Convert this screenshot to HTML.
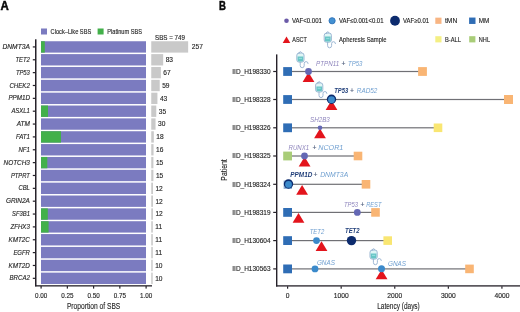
<!DOCTYPE html>
<html lang="en">
<head>
<meta charset="utf-8">
<title>Figure: SBS proportions and patient latency</title>
<style>
html, body { margin: 0; padding: 0; background: #ffffff; }
body { width: 520px; height: 312px; overflow: hidden; }
svg { display: block; font-family: "Liberation Sans", sans-serif; }
svg text { paint-order: stroke; stroke-linejoin: round; }
svg text.k { stroke: #262626; stroke-width: 0.14px; }
</style>
</head>
<body>
<svg width="520" height="312" viewBox="0 0 520 312">
<rect x="0" y="0" width="520" height="312" fill="#ffffff"/>
<text x="0.60" y="10.00" font-size="12" fill="#0a0a0a" font-weight="bold" textLength="8.30" lengthAdjust="spacingAndGlyphs" stroke="#0a0a0a" stroke-width="0.5">A</text>
<text x="218.90" y="10.00" font-size="12" fill="#0a0a0a" font-weight="bold" textLength="6.90" lengthAdjust="spacingAndGlyphs" stroke="#0a0a0a" stroke-width="0.5">B</text>
<rect x="41" y="28.5" width="6" height="6" fill="#7b7bc0"/>
<text x="50.60" y="34.00" font-size="6.8" fill="#262626" textLength="40.60" lengthAdjust="spacingAndGlyphs" class="k">Clock–Like SBS</text>
<rect x="97.6" y="28.5" width="6" height="6" fill="#42b04a"/>
<text x="107.30" y="34.00" font-size="6.8" fill="#262626" textLength="34.60" lengthAdjust="spacingAndGlyphs" class="k">Platinum SBS</text>
<text x="155.00" y="39.70" font-size="6.8" fill="#262626" textLength="30.00" lengthAdjust="spacingAndGlyphs" class="k">SBS = 749</text>
<rect x="41.0" y="41.25" width="105.0" height="11.36" fill="#7b7bc0"/>
<rect x="41.0" y="41.25" width="3.8" height="11.36" fill="#42b04a"/>
<rect x="151.25" y="41.25" width="36.90" height="11.36" fill="#c9c9c9"/>
<text x="191.81" y="49.33" font-size="6.6" fill="#262626" class="k">257</text>
<text x="29.90" y="48.98" font-size="6.9" text-anchor="end" fill="#262626" font-style="italic" textLength="27.40" lengthAdjust="spacingAndGlyphs" class="k">DNMT3A</text>
<rect x="32.8" y="46.33" width="2.6" height="1.2" fill="#26222a"/>
<rect x="41.0" y="54.11" width="105.0" height="11.36" fill="#7b7bc0"/>
<rect x="151.25" y="54.11" width="11.92" height="11.36" fill="#c9c9c9"/>
<text x="165.64" y="62.18" font-size="6.6" fill="#262626" class="k">83</text>
<text x="29.90" y="61.83" font-size="6.9" text-anchor="end" fill="#262626" font-style="italic" textLength="14.40" lengthAdjust="spacingAndGlyphs" class="k">TET2</text>
<rect x="32.8" y="59.18" width="2.6" height="1.2" fill="#26222a"/>
<rect x="41.0" y="66.96" width="105.0" height="11.36" fill="#7b7bc0"/>
<rect x="151.25" y="66.96" width="9.62" height="11.36" fill="#c9c9c9"/>
<text x="163.35" y="75.04" font-size="6.6" fill="#262626" class="k">67</text>
<text x="29.90" y="74.69" font-size="6.9" text-anchor="end" fill="#262626" font-style="italic" textLength="14.00" lengthAdjust="spacingAndGlyphs" class="k">TP53</text>
<rect x="32.8" y="72.04" width="2.6" height="1.2" fill="#26222a"/>
<rect x="41.0" y="79.82" width="105.0" height="11.36" fill="#7b7bc0"/>
<rect x="151.25" y="79.82" width="8.47" height="11.36" fill="#c9c9c9"/>
<text x="162.20" y="87.89" font-size="6.6" fill="#262626" class="k">59</text>
<text x="29.90" y="87.54" font-size="6.9" text-anchor="end" fill="#262626" font-style="italic" textLength="20.50" lengthAdjust="spacingAndGlyphs" class="k">CHEK2</text>
<rect x="32.8" y="84.89" width="2.6" height="1.2" fill="#26222a"/>
<rect x="41.0" y="92.67" width="105.0" height="11.36" fill="#7b7bc0"/>
<rect x="151.25" y="92.67" width="6.17" height="11.36" fill="#c9c9c9"/>
<text x="159.90" y="100.75" font-size="6.6" fill="#262626" class="k">43</text>
<text x="29.90" y="100.40" font-size="6.9" text-anchor="end" fill="#262626" font-style="italic" textLength="21.50" lengthAdjust="spacingAndGlyphs" class="k">PPM1D</text>
<rect x="32.8" y="97.75" width="2.6" height="1.2" fill="#26222a"/>
<rect x="41.0" y="105.53" width="105.0" height="11.36" fill="#7b7bc0"/>
<rect x="41.0" y="105.53" width="7.0" height="11.36" fill="#42b04a"/>
<rect x="151.25" y="105.53" width="5.03" height="11.36" fill="#c9c9c9"/>
<text x="158.75" y="113.60" font-size="6.6" fill="#262626" class="k">35</text>
<text x="29.90" y="113.25" font-size="6.9" text-anchor="end" fill="#262626" font-style="italic" textLength="18.50" lengthAdjust="spacingAndGlyphs" class="k">ASXL1</text>
<rect x="32.8" y="110.60" width="2.6" height="1.2" fill="#26222a"/>
<rect x="41.0" y="118.38" width="105.0" height="11.36" fill="#7b7bc0"/>
<rect x="151.25" y="118.38" width="4.31" height="11.36" fill="#c9c9c9"/>
<text x="158.03" y="126.46" font-size="6.6" fill="#262626" class="k">30</text>
<text x="29.90" y="126.11" font-size="6.9" text-anchor="end" fill="#262626" font-style="italic" textLength="13.20" lengthAdjust="spacingAndGlyphs" class="k">ATM</text>
<rect x="32.8" y="123.46" width="2.6" height="1.2" fill="#26222a"/>
<rect x="41.0" y="131.24" width="105.0" height="11.36" fill="#7b7bc0"/>
<rect x="41.0" y="131.24" width="20.0" height="11.36" fill="#42b04a"/>
<rect x="151.25" y="131.24" width="2.58" height="11.36" fill="#c9c9c9"/>
<text x="156.31" y="139.31" font-size="6.6" fill="#262626" class="k">18</text>
<text x="29.90" y="138.96" font-size="6.9" text-anchor="end" fill="#262626" font-style="italic" textLength="14.00" lengthAdjust="spacingAndGlyphs" class="k">FAT1</text>
<rect x="32.8" y="136.31" width="2.6" height="1.2" fill="#26222a"/>
<rect x="41.0" y="144.09" width="105.0" height="11.36" fill="#7b7bc0"/>
<rect x="151.25" y="144.09" width="2.30" height="11.36" fill="#c9c9c9"/>
<text x="156.02" y="152.17" font-size="6.6" fill="#262626" class="k">16</text>
<text x="29.90" y="151.82" font-size="6.9" text-anchor="end" fill="#262626" font-style="italic" textLength="11.40" lengthAdjust="spacingAndGlyphs" class="k">NF1</text>
<rect x="32.8" y="149.17" width="2.6" height="1.2" fill="#26222a"/>
<rect x="41.0" y="156.95" width="105.0" height="11.36" fill="#7b7bc0"/>
<rect x="41.0" y="156.95" width="6.3" height="11.36" fill="#42b04a"/>
<rect x="151.25" y="156.95" width="2.15" height="11.36" fill="#c9c9c9"/>
<text x="155.88" y="165.03" font-size="6.6" fill="#262626" class="k">15</text>
<text x="29.90" y="164.68" font-size="6.9" text-anchor="end" fill="#262626" font-style="italic" textLength="26.40" lengthAdjust="spacingAndGlyphs" class="k">NOTCH3</text>
<rect x="32.8" y="162.03" width="2.6" height="1.2" fill="#26222a"/>
<rect x="41.0" y="169.80" width="105.0" height="11.36" fill="#7b7bc0"/>
<rect x="151.25" y="169.80" width="2.15" height="11.36" fill="#c9c9c9"/>
<text x="155.88" y="177.88" font-size="6.6" fill="#262626" class="k">15</text>
<text x="29.90" y="177.53" font-size="6.9" text-anchor="end" fill="#262626" font-style="italic" textLength="19.00" lengthAdjust="spacingAndGlyphs" class="k">PTPRT</text>
<rect x="32.8" y="174.88" width="2.6" height="1.2" fill="#26222a"/>
<rect x="41.0" y="182.66" width="105.0" height="11.36" fill="#7b7bc0"/>
<rect x="151.25" y="182.66" width="1.72" height="11.36" fill="#c9c9c9"/>
<text x="155.45" y="190.74" font-size="6.6" fill="#262626" class="k">12</text>
<text x="29.90" y="190.39" font-size="6.9" text-anchor="end" fill="#262626" font-style="italic" textLength="11.50" lengthAdjust="spacingAndGlyphs" class="k">CBL</text>
<rect x="32.8" y="187.74" width="2.6" height="1.2" fill="#26222a"/>
<rect x="41.0" y="195.51" width="105.0" height="11.36" fill="#7b7bc0"/>
<rect x="151.25" y="195.51" width="1.72" height="11.36" fill="#c9c9c9"/>
<text x="155.45" y="203.59" font-size="6.6" fill="#262626" class="k">12</text>
<text x="29.90" y="203.24" font-size="6.9" text-anchor="end" fill="#262626" font-style="italic" textLength="24.00" lengthAdjust="spacingAndGlyphs" class="k">GRIN2A</text>
<rect x="32.8" y="200.59" width="2.6" height="1.2" fill="#26222a"/>
<rect x="41.0" y="208.37" width="105.0" height="11.36" fill="#7b7bc0"/>
<rect x="41.0" y="208.37" width="6.8" height="11.36" fill="#42b04a"/>
<rect x="151.25" y="208.37" width="1.72" height="11.36" fill="#c9c9c9"/>
<text x="155.45" y="216.45" font-size="6.6" fill="#262626" class="k">12</text>
<text x="29.90" y="216.10" font-size="6.9" text-anchor="end" fill="#262626" font-style="italic" textLength="17.80" lengthAdjust="spacingAndGlyphs" class="k">SF3B1</text>
<rect x="32.8" y="213.45" width="2.6" height="1.2" fill="#26222a"/>
<rect x="41.0" y="221.22" width="105.0" height="11.36" fill="#7b7bc0"/>
<rect x="41.0" y="221.22" width="7.6" height="11.36" fill="#42b04a"/>
<rect x="151.25" y="221.22" width="1.58" height="11.36" fill="#c9c9c9"/>
<text x="155.31" y="229.30" font-size="6.6" fill="#262626" class="k">11</text>
<text x="29.90" y="228.95" font-size="6.9" text-anchor="end" fill="#262626" font-style="italic" textLength="19.50" lengthAdjust="spacingAndGlyphs" class="k">ZFHX3</text>
<rect x="32.8" y="226.30" width="2.6" height="1.2" fill="#26222a"/>
<rect x="41.0" y="234.08" width="105.0" height="11.36" fill="#7b7bc0"/>
<rect x="151.25" y="234.08" width="1.58" height="11.36" fill="#c9c9c9"/>
<text x="155.31" y="242.16" font-size="6.6" fill="#262626" class="k">11</text>
<text x="29.90" y="241.81" font-size="6.9" text-anchor="end" fill="#262626" font-style="italic" textLength="21.40" lengthAdjust="spacingAndGlyphs" class="k">KMT2C</text>
<rect x="32.8" y="239.16" width="2.6" height="1.2" fill="#26222a"/>
<rect x="41.0" y="246.93" width="105.0" height="11.36" fill="#7b7bc0"/>
<rect x="151.25" y="246.93" width="1.58" height="11.36" fill="#c9c9c9"/>
<text x="155.31" y="255.01" font-size="6.6" fill="#262626" class="k">11</text>
<text x="29.90" y="254.66" font-size="6.9" text-anchor="end" fill="#262626" font-style="italic" textLength="16.50" lengthAdjust="spacingAndGlyphs" class="k">EGFR</text>
<rect x="32.8" y="252.01" width="2.6" height="1.2" fill="#26222a"/>
<rect x="41.0" y="259.79" width="105.0" height="11.36" fill="#7b7bc0"/>
<rect x="151.25" y="259.79" width="1.44" height="11.36" fill="#c9c9c9"/>
<text x="155.16" y="267.87" font-size="6.6" fill="#262626" class="k">10</text>
<text x="29.90" y="267.52" font-size="6.9" text-anchor="end" fill="#262626" font-style="italic" textLength="21.40" lengthAdjust="spacingAndGlyphs" class="k">KMT2D</text>
<rect x="32.8" y="264.87" width="2.6" height="1.2" fill="#26222a"/>
<rect x="41.0" y="272.64" width="105.0" height="11.36" fill="#7b7bc0"/>
<rect x="151.25" y="272.64" width="1.44" height="11.36" fill="#c9c9c9"/>
<text x="155.16" y="280.72" font-size="6.6" fill="#262626" class="k">10</text>
<text x="29.90" y="280.37" font-size="6.9" text-anchor="end" fill="#262626" font-style="italic" textLength="20.40" lengthAdjust="spacingAndGlyphs" class="k">BRCA2</text>
<rect x="32.8" y="277.72" width="2.6" height="1.2" fill="#26222a"/>
<rect x="35.0" y="39.3" width="1.5" height="247" fill="#26222a"/>
<rect x="35.0" y="285.2" width="117.0" height="1.3" fill="#26222a"/>
<rect x="40.50" y="286" width="1.2" height="2.6" fill="#26222a"/>
<text x="41.20" y="297.60" font-size="6.7" text-anchor="middle" fill="#262626" textLength="12.30" lengthAdjust="spacingAndGlyphs" class="k">0.00</text>
<rect x="66.75" y="286" width="1.2" height="2.6" fill="#26222a"/>
<text x="67.45" y="297.60" font-size="6.7" text-anchor="middle" fill="#262626" textLength="12.30" lengthAdjust="spacingAndGlyphs" class="k">0.25</text>
<rect x="93.00" y="286" width="1.2" height="2.6" fill="#26222a"/>
<text x="93.70" y="297.60" font-size="6.7" text-anchor="middle" fill="#262626" textLength="12.30" lengthAdjust="spacingAndGlyphs" class="k">0.50</text>
<rect x="119.25" y="286" width="1.2" height="2.6" fill="#26222a"/>
<text x="119.95" y="297.60" font-size="6.7" text-anchor="middle" fill="#262626" textLength="12.30" lengthAdjust="spacingAndGlyphs" class="k">0.75</text>
<rect x="145.50" y="286" width="1.2" height="2.6" fill="#26222a"/>
<text x="146.20" y="297.60" font-size="6.7" text-anchor="middle" fill="#262626" textLength="12.30" lengthAdjust="spacingAndGlyphs" class="k">1.00</text>
<text x="93.60" y="309.40" font-size="9.7" text-anchor="middle" fill="#262626" textLength="53.40" lengthAdjust="spacingAndGlyphs" class="k">Proportion of SBS</text>
<circle cx="286.50" cy="20.75" r="2.3" fill="#6b5aa8"/>
<text x="291.90" y="23.10" font-size="6.6" fill="#262626" textLength="30.00" lengthAdjust="spacingAndGlyphs" class="k">VAF&lt;0.001</text>
<circle cx="332.10" cy="20.75" r="3.1" fill="#4391d2" stroke="#2b6fb8" stroke-width="0.9"/>
<text x="339.00" y="23.10" font-size="6.6" fill="#262626" textLength="44.50" lengthAdjust="spacingAndGlyphs" class="k">VAF≤0.001&lt;0.01</text>
<circle cx="395.00" cy="20.75" r="4.9" fill="#0c2b6e"/>
<text x="403.10" y="23.10" font-size="6.6" fill="#262626" textLength="25.90" lengthAdjust="spacingAndGlyphs" class="k">VAF≥0.01</text>
<rect x="435.30" y="17.65" width="6.2" height="6.2" fill="#f8b583"/>
<text x="445.00" y="23.10" font-size="6.6" fill="#262626" textLength="12.30" lengthAdjust="spacingAndGlyphs" class="k">tMN</text>
<rect x="469.10" y="17.55" width="6.4" height="6.4" fill="#2f6db5"/>
<text x="478.80" y="23.10" font-size="6.6" fill="#262626" textLength="10.60" lengthAdjust="spacingAndGlyphs" class="k">MM</text>
<path d="M286.50 36.40 L290.30 43.00 L282.70 43.00 Z" fill="#e3141c"/>
<text x="292.30" y="42.00" font-size="6.6" fill="#262626" textLength="14.60" lengthAdjust="spacingAndGlyphs" class="k">ASCT</text>
<g transform="translate(323.60 31.20) scale(1.0)" fill="none" stroke-linecap="round" stroke-linejoin="round"><path d="M3.1 1.9 Q3.1 0.5 4.2 0.5 Q5.3 0.5 5.3 1.9" stroke="#93b0cf" stroke-width="0.8"/><rect x="0.6" y="1.9" width="7.2" height="9.1" rx="2.2" fill="#e0f6f6" stroke="#93b0cf" stroke-width="0.9"/><path d="M1.4 5.4 L7.0 5.4 L7.0 9.0 Q7.0 10.3 5.7 10.3 L2.7 10.3 Q1.4 10.3 1.4 9.0 Z" fill="#68c5c6" stroke="none"/><rect x="2.6" y="6.7" width="3.2" height="1.2" fill="#93dcdc" stroke="none"/><path d="M4.0 11.1 L4.0 14.4 Q4.0 16.6 6.0 16.6 Q8.0 16.6 8.0 14.4 L8.0 12.4 Q8.0 10.5 9.9 10.5 Q11.8 10.5 11.9 12.4" stroke="#93b0cf" stroke-width="0.9"/></g>
<text x="339.00" y="41.80" font-size="6.6" fill="#262626" textLength="47.50" lengthAdjust="spacingAndGlyphs" class="k">Apheresis Sample</text>
<rect x="435.30" y="36.20" width="6.2" height="6.2" fill="#f4ef84"/>
<text x="445.00" y="42.00" font-size="6.6" fill="#262626" textLength="16.00" lengthAdjust="spacingAndGlyphs" class="k">B-ALL</text>
<rect x="469.20" y="36.20" width="6.2" height="6.2" fill="#a9cd78"/>
<text x="478.80" y="42.00" font-size="6.6" fill="#262626" textLength="11.20" lengthAdjust="spacingAndGlyphs" class="k">NHL</text>
<rect x="276.0" y="54.4" width="1.4" height="232.1" fill="#26222a"/>
<rect x="276.0" y="285.25" width="244" height="1.3" fill="#26222a"/>
<rect x="287.00" y="286.3" width="1.2" height="2.4" fill="#26222a"/>
<text x="287.60" y="297.70" font-size="6.7" text-anchor="middle" fill="#262626" class="k">0</text>
<rect x="340.58" y="286.3" width="1.2" height="2.4" fill="#26222a"/>
<text x="341.18" y="297.70" font-size="6.7" text-anchor="middle" fill="#262626" class="k">1000</text>
<rect x="394.16" y="286.3" width="1.2" height="2.4" fill="#26222a"/>
<text x="394.76" y="297.70" font-size="6.7" text-anchor="middle" fill="#262626" class="k">2000</text>
<rect x="447.74" y="286.3" width="1.2" height="2.4" fill="#26222a"/>
<text x="448.34" y="297.70" font-size="6.7" text-anchor="middle" fill="#262626" class="k">3000</text>
<rect x="501.32" y="286.3" width="1.2" height="2.4" fill="#26222a"/>
<text x="501.92" y="297.70" font-size="6.7" text-anchor="middle" fill="#262626" class="k">4000</text>
<text x="398.50" y="309.00" font-size="9.7" text-anchor="middle" fill="#262626" textLength="42.60" lengthAdjust="spacingAndGlyphs" class="k">Latency (days)</text>
<g transform="translate(227.2 170) rotate(-90)">
<text x="0.00" y="0.00" font-size="9.7" text-anchor="middle" fill="#262626" textLength="21.40" lengthAdjust="spacingAndGlyphs" class="k">Patient</text>
</g>
<text x="270.50" y="73.90" font-size="6.6" text-anchor="end" fill="#262626" textLength="38.20" lengthAdjust="spacingAndGlyphs" class="k">IID_H198330</text>
<rect x="273.2" y="70.90" width="2.9" height="1.2" fill="#26222a"/>
<text x="270.50" y="101.90" font-size="6.6" text-anchor="end" fill="#262626" textLength="38.20" lengthAdjust="spacingAndGlyphs" class="k">IID_H198328</text>
<rect x="273.2" y="98.90" width="2.9" height="1.2" fill="#26222a"/>
<text x="270.50" y="130.20" font-size="6.6" text-anchor="end" fill="#262626" textLength="38.20" lengthAdjust="spacingAndGlyphs" class="k">IID_H198326</text>
<rect x="273.2" y="127.20" width="2.9" height="1.2" fill="#26222a"/>
<text x="270.50" y="158.40" font-size="6.6" text-anchor="end" fill="#262626" textLength="38.20" lengthAdjust="spacingAndGlyphs" class="k">IID_H198325</text>
<rect x="273.2" y="155.40" width="2.9" height="1.2" fill="#26222a"/>
<text x="270.50" y="186.70" font-size="6.6" text-anchor="end" fill="#262626" textLength="38.20" lengthAdjust="spacingAndGlyphs" class="k">IID_H198324</text>
<rect x="273.2" y="183.70" width="2.9" height="1.2" fill="#26222a"/>
<text x="270.50" y="214.80" font-size="6.6" text-anchor="end" fill="#262626" textLength="38.20" lengthAdjust="spacingAndGlyphs" class="k">IID_H198319</text>
<rect x="273.2" y="211.80" width="2.9" height="1.2" fill="#26222a"/>
<text x="270.50" y="243.00" font-size="6.6" text-anchor="end" fill="#262626" textLength="38.20" lengthAdjust="spacingAndGlyphs" class="k">IID_H130604</text>
<rect x="273.2" y="240.00" width="2.9" height="1.2" fill="#26222a"/>
<text x="270.50" y="271.30" font-size="6.6" text-anchor="end" fill="#262626" textLength="38.20" lengthAdjust="spacingAndGlyphs" class="k">IID_H130563</text>
<rect x="273.2" y="268.30" width="2.9" height="1.2" fill="#26222a"/>
<rect x="287.60" y="70.90" width="134.90" height="1.2" fill="#707075"/>
<rect x="283.20" y="67.10" width="8.8" height="8.8" fill="#2f6db5"/>
<rect x="418.10" y="67.10" width="8.8" height="8.8" fill="#f9b574"/>
<path d="M308.50 72.20 L314.40 81.90 L302.60 81.90 Z" fill="#e3141c"/>
<circle cx="308.50" cy="71.50" r="3.4" fill="#6468b4"/>
<g transform="translate(296.20 51.10) scale(1.0)" fill="none" stroke-linecap="round" stroke-linejoin="round"><path d="M3.1 1.9 Q3.1 0.5 4.2 0.5 Q5.3 0.5 5.3 1.9" stroke="#93b0cf" stroke-width="0.8"/><rect x="0.6" y="1.9" width="7.2" height="9.1" rx="2.2" fill="#e0f6f6" stroke="#93b0cf" stroke-width="0.9"/><path d="M1.4 5.4 L7.0 5.4 L7.0 9.0 Q7.0 10.3 5.7 10.3 L2.7 10.3 Q1.4 10.3 1.4 9.0 Z" fill="#68c5c6" stroke="none"/><rect x="2.6" y="6.7" width="3.2" height="1.2" fill="#93dcdc" stroke="none"/><path d="M4.0 11.1 L4.0 14.4 Q4.0 16.6 6.0 16.6 Q8.0 16.6 8.0 14.4 L8.0 12.4 Q8.0 10.5 9.9 10.5 Q11.8 10.5 11.9 12.4" stroke="#93b0cf" stroke-width="0.9"/></g>
<text x="316.00" y="66.30" font-size="6.5" fill="#8f86bd" font-style="italic" textLength="23.20" lengthAdjust="spacingAndGlyphs">PTPN11</text>
<text x="341.60" y="66.30" font-size="6.5" fill="#4b5a7a" font-style="italic" stroke="#4b5a7a" stroke-width="0.15">+</text>
<text x="348.00" y="66.30" font-size="6.5" fill="#6f9fd0" font-style="italic" textLength="14.40" lengthAdjust="spacingAndGlyphs">TP53</text>
<rect x="287.60" y="98.90" width="220.90" height="1.2" fill="#707075"/>
<rect x="283.20" y="95.10" width="8.8" height="8.8" fill="#2f6db5"/>
<rect x="504.00" y="95.00" width="9.0" height="9.0" fill="#f9b574"/>
<path d="M331.50 100.20 L337.40 109.90 L325.60 109.90 Z" fill="#e3141c"/>
<circle cx="331.50" cy="99.30" r="4.7" fill="#0c2b6e"/>
<circle cx="331.50" cy="99.70" r="3.4" fill="#3b8acb"/>
<g transform="translate(315.00 81.00) scale(1.0)" fill="none" stroke-linecap="round" stroke-linejoin="round"><path d="M3.1 1.9 Q3.1 0.5 4.2 0.5 Q5.3 0.5 5.3 1.9" stroke="#93b0cf" stroke-width="0.8"/><rect x="0.6" y="1.9" width="7.2" height="9.1" rx="2.2" fill="#e0f6f6" stroke="#93b0cf" stroke-width="0.9"/><path d="M1.4 5.4 L7.0 5.4 L7.0 9.0 Q7.0 10.3 5.7 10.3 L2.7 10.3 Q1.4 10.3 1.4 9.0 Z" fill="#68c5c6" stroke="none"/><rect x="2.6" y="6.7" width="3.2" height="1.2" fill="#93dcdc" stroke="none"/><path d="M4.0 11.1 L4.0 14.4 Q4.0 16.6 6.0 16.6 Q8.0 16.6 8.0 14.4 L8.0 12.4 Q8.0 10.5 9.9 10.5 Q11.8 10.5 11.9 12.4" stroke="#93b0cf" stroke-width="0.9"/></g>
<text x="334.30" y="93.20" font-size="6.5" fill="#213f7a" font-weight="bold" font-style="italic" textLength="13.80" lengthAdjust="spacingAndGlyphs">TP53</text>
<text x="350.00" y="93.20" font-size="6.5" fill="#4b5a7a" font-style="italic" stroke="#4b5a7a" stroke-width="0.15">+</text>
<text x="356.80" y="93.20" font-size="6.5" fill="#6f9fd0" font-style="italic" textLength="20.60" lengthAdjust="spacingAndGlyphs">RAD52</text>
<rect x="287.60" y="127.20" width="150.40" height="1.2" fill="#707075"/>
<rect x="283.20" y="123.40" width="8.8" height="8.8" fill="#2f6db5"/>
<rect x="433.70" y="123.50" width="8.6" height="8.6" fill="#f9e672"/>
<path d="M320.00 128.50 L325.90 138.20 L314.10 138.20 Z" fill="#e3141c"/>
<circle cx="320.00" cy="127.80" r="2.3" fill="#6468b4"/>
<text x="310.00" y="122.40" font-size="6.5" fill="#8f86bd" font-style="italic" textLength="19.80" lengthAdjust="spacingAndGlyphs">SH2B3</text>
<rect x="287.60" y="155.40" width="70.40" height="1.2" fill="#707075"/>
<rect x="283.20" y="151.60" width="8.8" height="8.8" fill="#a9cd78"/>
<rect x="353.70" y="151.70" width="8.6" height="8.6" fill="#f9b574"/>
<path d="M304.60 156.70 L310.50 166.40 L298.70 166.40 Z" fill="#e3141c"/>
<circle cx="304.50" cy="156.00" r="3.4" fill="#6468b4"/>
<text x="288.60" y="150.40" font-size="6.5" fill="#8f86bd" font-style="italic" textLength="20.60" lengthAdjust="spacingAndGlyphs">RUNX1</text>
<text x="312.60" y="150.40" font-size="6.5" fill="#4b5a7a" font-style="italic" stroke="#4b5a7a" stroke-width="0.15">+</text>
<text x="318.20" y="150.40" font-size="6.5" fill="#6f9fd0" font-style="italic" textLength="25.20" lengthAdjust="spacingAndGlyphs">NCOR1</text>
<rect x="287.60" y="183.70" width="78.40" height="1.2" fill="#707075"/>
<rect x="283.60" y="180.50" width="8.4" height="8.4" fill="#2f6db5" opacity="0.55"/>
<rect x="361.70" y="180.00" width="8.6" height="8.6" fill="#f9b574"/>
<path d="M302.10 185.00 L308.00 194.70 L296.20 194.70 Z" fill="#e3141c"/>
<circle cx="288.50" cy="184.00" r="4.7" fill="#0c2b6e"/>
<circle cx="288.50" cy="184.40" r="3.4" fill="#3b8acb"/>
<text x="290.30" y="177.40" font-size="6.5" fill="#213f7a" font-weight="bold" font-style="italic" textLength="22.00" lengthAdjust="spacingAndGlyphs">PPM1D</text>
<text x="313.40" y="177.40" font-size="6.5" fill="#4b5a7a" font-style="italic" stroke="#4b5a7a" stroke-width="0.15">+</text>
<text x="320.20" y="177.40" font-size="6.5" fill="#6f9fd0" font-style="italic" textLength="28.00" lengthAdjust="spacingAndGlyphs">DNMT3A</text>
<rect x="287.60" y="211.80" width="87.90" height="1.2" fill="#707075"/>
<rect x="283.20" y="208.00" width="8.8" height="8.8" fill="#2f6db5"/>
<rect x="371.20" y="208.10" width="8.6" height="8.6" fill="#f9b574"/>
<path d="M298.50 213.10 L304.40 222.80 L292.60 222.80 Z" fill="#e3141c"/>
<circle cx="357.30" cy="212.40" r="3.4" fill="#6468b4"/>
<text x="344.00" y="206.60" font-size="6.5" fill="#8f86bd" font-style="italic" textLength="14.10" lengthAdjust="spacingAndGlyphs">TP53</text>
<text x="360.40" y="206.60" font-size="6.5" fill="#4b5a7a" font-style="italic" stroke="#4b5a7a" stroke-width="0.15">+</text>
<text x="366.20" y="206.60" font-size="6.5" fill="#6f9fd0" font-style="italic" textLength="15.20" lengthAdjust="spacingAndGlyphs">REST</text>
<rect x="287.60" y="240.00" width="100.10" height="1.2" fill="#707075"/>
<rect x="283.20" y="236.20" width="8.8" height="8.8" fill="#2f6db5"/>
<rect x="383.40" y="236.30" width="8.6" height="8.6" fill="#f9e672"/>
<path d="M321.50 241.30 L327.40 251.00 L315.60 251.00 Z" fill="#e3141c"/>
<circle cx="316.50" cy="240.60" r="3.4" fill="#3b8acb"/>
<circle cx="351.50" cy="240.60" r="4.7" fill="#0c2b6e"/>
<text x="309.70" y="233.70" font-size="6.5" fill="#6f9fd0" font-style="italic" textLength="14.60" lengthAdjust="spacingAndGlyphs">TET2</text>
<text x="345.00" y="233.40" font-size="6.5" fill="#213f7a" font-weight="bold" font-style="italic" textLength="14.60" lengthAdjust="spacingAndGlyphs">TET2</text>
<rect x="287.60" y="268.30" width="181.90" height="1.2" fill="#707075"/>
<rect x="283.20" y="264.50" width="8.8" height="8.8" fill="#2f6db5"/>
<rect x="465.20" y="264.60" width="8.6" height="8.6" fill="#f9b574"/>
<path d="M381.60 269.60 L387.50 279.30 L375.70 279.30 Z" fill="#e3141c"/>
<circle cx="315.00" cy="268.90" r="3.4" fill="#3b8acb"/>
<circle cx="381.50" cy="268.70" r="3.5" fill="#3b8acb"/>
<g transform="translate(369.40 248.10) scale(1.0)" fill="none" stroke-linecap="round" stroke-linejoin="round"><path d="M3.1 1.9 Q3.1 0.5 4.2 0.5 Q5.3 0.5 5.3 1.9" stroke="#93b0cf" stroke-width="0.8"/><rect x="0.6" y="1.9" width="7.2" height="9.1" rx="2.2" fill="#e0f6f6" stroke="#93b0cf" stroke-width="0.9"/><path d="M1.4 5.4 L7.0 5.4 L7.0 9.0 Q7.0 10.3 5.7 10.3 L2.7 10.3 Q1.4 10.3 1.4 9.0 Z" fill="#68c5c6" stroke="none"/><rect x="2.6" y="6.7" width="3.2" height="1.2" fill="#93dcdc" stroke="none"/><path d="M4.0 11.1 L4.0 14.4 Q4.0 16.6 6.0 16.6 Q8.0 16.6 8.0 14.4 L8.0 12.4 Q8.0 10.5 9.9 10.5 Q11.8 10.5 11.9 12.4" stroke="#93b0cf" stroke-width="0.9"/></g>
<text x="316.90" y="264.70" font-size="6.5" fill="#6f9fd0" font-style="italic" textLength="18.00" lengthAdjust="spacingAndGlyphs">GNAS</text>
<text x="388.10" y="265.60" font-size="6.5" fill="#6f9fd0" font-style="italic" textLength="18.00" lengthAdjust="spacingAndGlyphs">GNAS</text>
</svg>
</body>
</html>
